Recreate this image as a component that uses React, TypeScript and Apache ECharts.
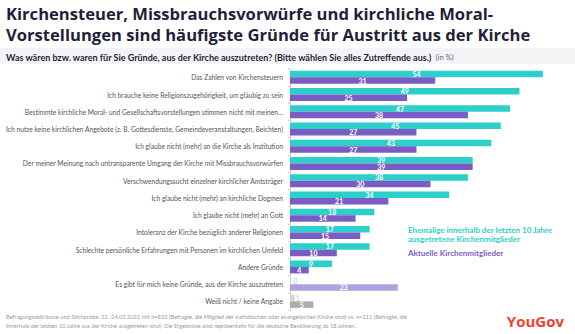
import React, { useEffect, useRef } from "react";
import * as echarts from "echarts";

const categories = [
  "Das Zahlen von Kirchensteuern",
  "Ich brauche keine Religionszugehörigkeit, um gläubig zu sein",
  "Bestimmte kirchliche Moral- und Gesellschaftsvorstellungen stimmen nicht mit meinen…",
  "Ich nutze keine kirchlichen Angebote (z. B. Gottesdienste, Gemeindeveranstaltungen, Beichten)",
  "Ich glaube nicht (mehr) an die Kirche als Institution",
  "Der meiner Meinung nach untransparente Umgang der Kirche mit Missbrauchsvorwürfen",
  "Verschwendungssucht einzelner kirchlicher Amtsträger",
  "Ich glaube nicht (mehr) an kirchliche Dogmen",
  "Ich glaube nicht (mehr) an Gott",
  "Intoleranz der Kirche bezüglich anderer Religionen",
  "Schlechte persönliche Erfahrungen mit Personen im kirchlichen Umfeld",
  "Andere Gründe",
  "Es gibt für mich keine Gründe, aus der Kirche auszutreten",
  "Weiß nicht / keine Angabe",
];
const ehemalige = [54, 49, 47, 45, 43, 39, 38, 34, 18, 17, 17, 9, 0, 1];
const aktuelle = [31, 25, 38, 27, 27, 39, 30, 21, 14, 15, 10, 4, 23, 5];

const TEAL = "#2ccfc9";
const PURPLE = "#7b5cc4";
const FONT = "Lato, 'Open Sans', sans-serif";

export default function App() {
  const ref = useRef<HTMLDivElement>(null);
  useEffect(() => {
    document.body.style.margin = "0";
    if (!ref.current) return;
    const chart = echarts.init(ref.current, null, { renderer: "svg" });
    const n = categories.length;
    const tealData = ehemalige.map((v, i) => {
      if (i === n - 2)
        return { value: v, itemStyle: { color: TEAL }, label: { position: "right", distance: 3, color: "#7fe3df", fontWeight: "normal" } };
      if (i === n - 1)
        return { value: v, itemStyle: { color: "#d6d6d6" }, label: { position: "right", distance: 1, color: "#c8c8c8", fontWeight: "normal" } };
      return { value: v, itemStyle: { color: TEAL } };
    });
    const purpleData = aktuelle.map((v, i) => {
      if (i === n - 2) return { value: v, itemStyle: { color: "#b2a0de" } };
      if (i === n - 1) return { value: v, itemStyle: { color: "#adadad" } };
      return { value: v, itemStyle: { color: PURPLE } };
    });
    const labelCommon = {
      show: true,
      position: "inside",
      color: "#ffffff",
      fontSize: 7,
      fontWeight: "bold",
      fontFamily: FONT,
    };
    chart.setOption({
      animation: false,
      backgroundColor: "#ffffff",
      textStyle: { fontFamily: FONT },
      grid: { left: 290, right: 4, top: 68.7, bottom: 24, containLabel: false },
      xAxis: {
        type: "value",
        min: 0,
        max: 60,
        show: false,
      },
      yAxis: {
        type: "category",
        data: categories,
        inverse: true,
        axisLine: { show: true, lineStyle: { color: "#d0d0d0", width: 1 } },
        axisTick: { show: true, length: 2, lineStyle: { color: "#d0d0d0" } },
        axisLabel: {
          color: "#555555",
          fontSize: 6.7,
          fontFamily: FONT,
          margin: 7,
        },
      },
      series: [
        {
          name: "Ehemalige innerhalb der letzten 10 Jahre ausgetretene Kirchenmitglieder",
          type: "bar",
          data: tealData,
          barWidth: 6.5,
          barGap: "0%",
          label: labelCommon,
        },
        {
          name: "Aktuelle Kirchenmitglieder",
          type: "bar",
          data: purpleData,
          barWidth: 6.5,
          barGap: "0%",
          label: labelCommon,
        },
      ],
      graphic: [
        { type: "rect", left: 0, top: 48, shape: { width: 575, height: 16 }, style: { fill: "#f4f4f6" }, silent: true },
        {
          type: "text",
          left: 6,
          top: 3,
          style: {
            text: "Kirchensteuer, Missbrauchsvorwürfe und kirchliche Moral-\nVorstellungen sind häufigste Gründe für Austritt aus der Kirche",
            fill: "#1f1f3a",
            font: "bold 16.6px 'Open Sans', sans-serif",
            lineHeight: 21,
          },
        },
        {
          type: "text",
          left: 6,
          top: 51,
          style: {
            rich: {
              b: { fontSize: 9, fontWeight: "bold", fill: "#1f1f3a", fontFamily: FONT },
              n: { fontSize: 7.5, fill: "#666677", fontFamily: FONT },
            },
            text: "{b|Was wären bzw. waren für Sie Gründe, aus der Kirche auszutreten? (Bitte wählen Sie alles Zutreffende aus.)} {n|(in %)}",
          },
        },
        {
          type: "text",
          left: 408,
          top: 225,
          style: {
            text: "Ehemalige innerhalb der letzten 10 Jahre\nausgetretene Kirchenmitglieder",
            fill: "#2ccfc9",
            font: "bold 8px Lato, sans-serif",
            lineHeight: 9.5,
          },
        },
        {
          type: "text",
          left: 408,
          top: 249,
          style: {
            text: "Aktuelle Kirchenmitglieder",
            fill: "#7b5cc4",
            font: "bold 8px Lato, sans-serif",
          },
        },
        {
          type: "text",
          left: 6,
          top: 312,
          style: {
            text:
              "Befragungszeiträume und Stichprobe: 22.-24.03.2021 mit n=833 (Befragte, die Mitglied der katholischen oder evangelischen Kirche sind) vs. n=211 (Befragte, die\ninnerhalb der letzten 10 Jahre aus der Kirche ausgetreten sind). Die Ergebnisse sind repräsentativ für die deutsche Bevölkerung ab 18 Jahren.",
            fill: "#9a9a9a",
            font: "5.7px Lato, sans-serif",
            lineHeight: 9,
          },
        },
        {
          type: "text",
          right: 11,
          top: 313,
          style: {
            text: "YouGov",
            fill: "#f0412d",
            font: "bold 15px 'Open Sans', sans-serif",
          },
        },
      ],
    });
    return () => chart.dispose();
  }, []);
  return <div ref={ref} style={{ width: 575, height: 334 }} />;
}
